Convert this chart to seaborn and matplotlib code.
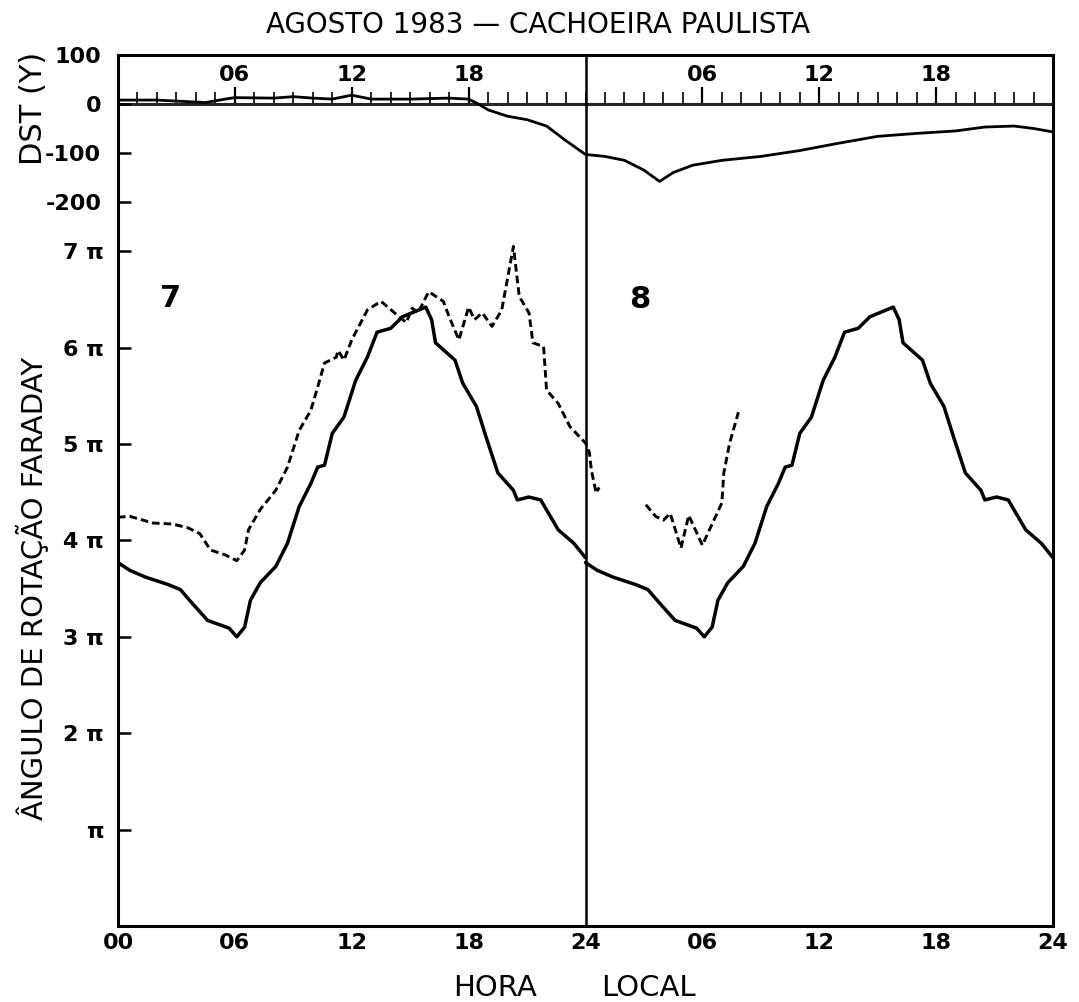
import numpy as np
import pandas as pd
import matplotlib
matplotlib.use("Agg")
import matplotlib.pyplot as plt
from matplotlib.ticker import FixedLocator, MultipleLocator, FuncFormatter
import seaborn as sns

sns.set_theme(style="white")
plt.rcParams['font.family'] = ['DejaVu Sans']
plt.rcParams['text.color'] = 'black'
plt.rcParams['axes.labelcolor'] = 'black'

# quiet-day reference curve (hour of local time, Faraday rotation in units of pi)
quiet_hour = [0.0, 0.6, 1.4, 2.6, 3.2, 3.8, 4.6, 5.7, 6.1, 6.5, 6.8, 7.3, 8.1, 8.7, 9.3,
              9.9, 10.25, 10.6, 11.0, 11.6, 12.2, 12.8, 13.3, 14.0, 14.6, 15.2, 15.8,
              16.1, 16.3, 17.3, 17.7, 18.4, 18.9, 19.5, 20.3, 20.5, 21.1, 21.7, 22.6,
              23.4, 24.0]
quiet_rot = [3.77, 3.69, 3.62, 3.54, 3.49, 3.35, 3.17, 3.09, 3.00, 3.10, 3.38, 3.56, 3.73,
             3.97, 4.35, 4.59, 4.76, 4.78, 5.11, 5.28, 5.66, 5.90, 6.16, 6.20, 6.32, 6.37,
             6.42, 6.29, 6.05, 5.87, 5.63, 5.39, 5.07, 4.70, 4.52, 4.42, 4.45, 4.42, 4.11,
             3.97, 3.82]

# disturbed days, 7-8 August (dashed), two separate pieces
storm_hour_a = [0.0, 0.6, 1.8, 2.8, 3.6, 4.2, 4.75, 5.5, 6.1, 6.5, 6.7, 7.3, 8.1, 8.7,
                9.3, 9.9, 10.25, 10.6, 11.2, 11.3, 11.6, 12.0, 12.8, 13.5, 14.2, 14.8,
                15.1, 15.4, 15.95, 16.7, 17.0, 17.5, 18.0, 18.3, 18.7, 19.2, 19.7, 20.3,
                20.6, 21.1, 21.3, 21.85, 22.0, 22.6, 23.2, 24.0, 24.2, 24.3, 24.55, 24.7]
storm_rot_a = [4.24, 4.25, 4.18, 4.17, 4.13, 4.07, 3.90, 3.85, 3.79, 3.90, 4.11, 4.32,
               4.52, 4.76, 5.14, 5.35, 5.59, 5.84, 5.90, 5.97, 5.87, 6.08, 6.39, 6.48,
               6.36, 6.26, 6.41, 6.36, 6.58, 6.48, 6.32, 6.08, 6.42, 6.29, 6.36, 6.22,
               6.39, 7.05, 6.53, 6.36, 6.05, 6.01, 5.56, 5.42, 5.18, 5.01, 4.91, 4.73,
               4.49, 4.55]
storm_hour_b = [27.1, 27.6, 28.0, 28.35, 28.9, 29.3, 30.0, 31.0, 31.1, 31.4, 31.85]
storm_rot_b = [4.37, 4.25, 4.21, 4.28, 3.92, 4.26, 3.95, 4.39, 4.70, 5.01, 5.33]

# Dst index (gamma)
dst_hour = [0, 2, 3.5, 4.5, 5.5, 6, 8, 9, 10, 11, 12, 13, 15, 17, 18, 18.5, 19, 20, 21,
            22, 23, 24, 25, 26, 27, 27.8, 28.5, 29.5, 31, 33, 35, 37, 39, 41, 43, 44.5,
            46, 47, 48]
dst_val = [8, 8, 5, 3, 10, 13, 12, 15, 12, 10, 18, 10, 10, 12, 10, 0, -12, -25, -32,
           -45, -75, -103, -107, -115, -135, -158, -140, -125, -115, -107, -95, -80,
           -66, -60, -55, -47, -45, -50, -57]

pi_ticks = [1, 2, 3, 4, 5, 6, 7]
pi_labels = ["π", "2 π", "3 π", "4 π", "5 π", "6 π", "7 π"]
dst_ticks = [100, 0, -100, -200]
dst_labels = ["100", "0", "-100", "-200"]
top_ticks = [6, 12, 18, 30, 36, 42]
top_labels = ["06", "12", "18", "06", "12", "18"]

quiet = pd.DataFrame({"hour": quiet_hour, "rot": quiet_rot})
quiet2 = quiet.assign(hour=quiet["hour"] + 24)
storm_a = pd.DataFrame({"hour": storm_hour_a, "rot": storm_rot_a})
storm_b = pd.DataFrame({"hour": storm_hour_b, "rot": storm_rot_b})
dst = pd.DataFrame({"hour": dst_hour, "dst": dst_val})

W, H = 1079, 1002
fig = plt.figure(figsize=(W / 100, H / 100), dpi=100)
left, right, top, bottom = 118, 1053, 55, 926
ax = fig.add_axes([left / W, (H - bottom) / H, (right - left) / W, (bottom - top) / H])
ax.set_facecolor("white")

px_per_pi = 96.4
ax.set_xlim(0, 48)
ax.set_ylim(0, (bottom - top) / px_per_pi)

# curves
dash = (0, (2.6, 1.4))
sns.lineplot(data=quiet, x="hour", y="rot", ax=ax, color="black", linewidth=2.5)
sns.lineplot(data=quiet2, x="hour", y="rot", ax=ax, color="black", linewidth=2.5)
sns.lineplot(data=storm_a, x="hour", y="rot", ax=ax, color="black", linewidth=2.1,
             linestyle=dash)
sns.lineplot(data=storm_b, x="hour", y="rot", ax=ax, color="black", linewidth=2.1,
             linestyle=dash)

ax.axvline(24, color="black", linewidth=1.8)

# frame
for s in ax.spines.values():
    s.set_visible(True)
    s.set_color("black")
    s.set_linewidth(2.2)

def hour_label(v, pos):
    h = int(round(v))
    if h == 0:
        return "00"
    if h % 24 == 0:
        return "24"
    return f"{h % 24:02d}"

ax.xaxis.set_major_locator(MultipleLocator(6))
ax.xaxis.set_minor_locator(MultipleLocator(1))
ax.xaxis.set_major_formatter(FuncFormatter(hour_label))
ax.tick_params(axis="x", which="major", direction="in", length=11, width=1.6,
               labelsize=16, pad=5, colors="black")
ax.tick_params(axis="x", which="minor", direction="in", length=7, width=1.4)
for t in ax.get_xticklabels():
    t.set_fontweight("bold")

ax.yaxis.set_major_locator(FixedLocator(pi_ticks))
ax.set_yticklabels(pi_labels)
ax.tick_params(axis="y", which="major", direction="in", length=9, width=1.8,
               labelsize=16, pad=10, colors="black")
for t in ax.get_yticklabels():
    t.set_fontweight("bold")
ax.set_xlabel("")
ax.set_ylabel("")

# Dst on a twin axis sharing the left side
ax2 = ax.twinx()
dst_zero_px = 104
px_per_100 = 49.0
ax2.set_ylim((dst_zero_px - bottom) / px_per_100 * 100, (dst_zero_px - top) / px_per_100 * 100)
sns.lineplot(data=dst, x="hour", y="dst", ax=ax2, color="black", linewidth=2.0)
ax2.set_xlim(0, 48)
ax2.yaxis.set_ticks_position("left")
ax2.yaxis.set_major_locator(FixedLocator(dst_ticks))
ax2.set_yticklabels(dst_labels)
ax2.tick_params(axis="y", which="major", direction="in", length=9, width=1.8,
                labelsize=16, pad=12, colors="black")
for t in ax2.get_yticklabels():
    t.set_fontweight("bold")
ax2.set_ylabel("")
ax2.set_xlabel("")
for s in ax2.spines.values():
    s.set_visible(False)

# zero line of Dst carrying the upper hour scale
y0, y1 = ax2.get_ylim()
zero_frac = (0 - y0) / (y1 - y0)
sec = ax.secondary_xaxis(zero_frac)
sec.spines["top"].set_linewidth(2.2)
sec.xaxis.set_major_locator(FixedLocator(top_ticks))
sec.xaxis.set_minor_locator(MultipleLocator(1))
sec.set_xticklabels(top_labels)
sec.tick_params(axis="x", which="major", direction="out", length=12, width=1.6,
                labelsize=16, pad=2, colors="black")
sec.tick_params(axis="x", which="minor", direction="out", length=9, width=1.4)
for t in sec.get_xticklabels():
    t.set_fontweight("bold")

# day numbers
ax.text(2.7, (bottom - 298) / px_per_pi, "7", fontsize=22, fontweight="bold",
        ha="center", va="center")
ax.text(26.8, (bottom - 300) / px_per_pi, "8", fontsize=22, fontweight="bold",
        ha="center", va="center")

# titles and axis labels
fig.text(538 / W, 1 - 25 / H, "AGOSTO 1983 — CACHOEIRA PAULISTA", fontsize=20,
         ha="center", va="center")
fig.text(34 / W, 1 - 108 / H, "DST (Y)", fontsize=22, rotation=90, ha="center", va="center")
fig.text(32 / W, 1 - 588 / H, "ÂNGULO DE ROTAÇÃO FARADAY", fontsize=21, rotation=90,
         ha="center", va="center")
fig.text(495 / W, 1 - 988 / H, "HORA", fontsize=21, ha="center", va="center")
fig.text(648 / W, 1 - 988 / H, "LOCAL", fontsize=21, ha="center", va="center")

fig.savefig("out.png", dpi=100, facecolor="white")
